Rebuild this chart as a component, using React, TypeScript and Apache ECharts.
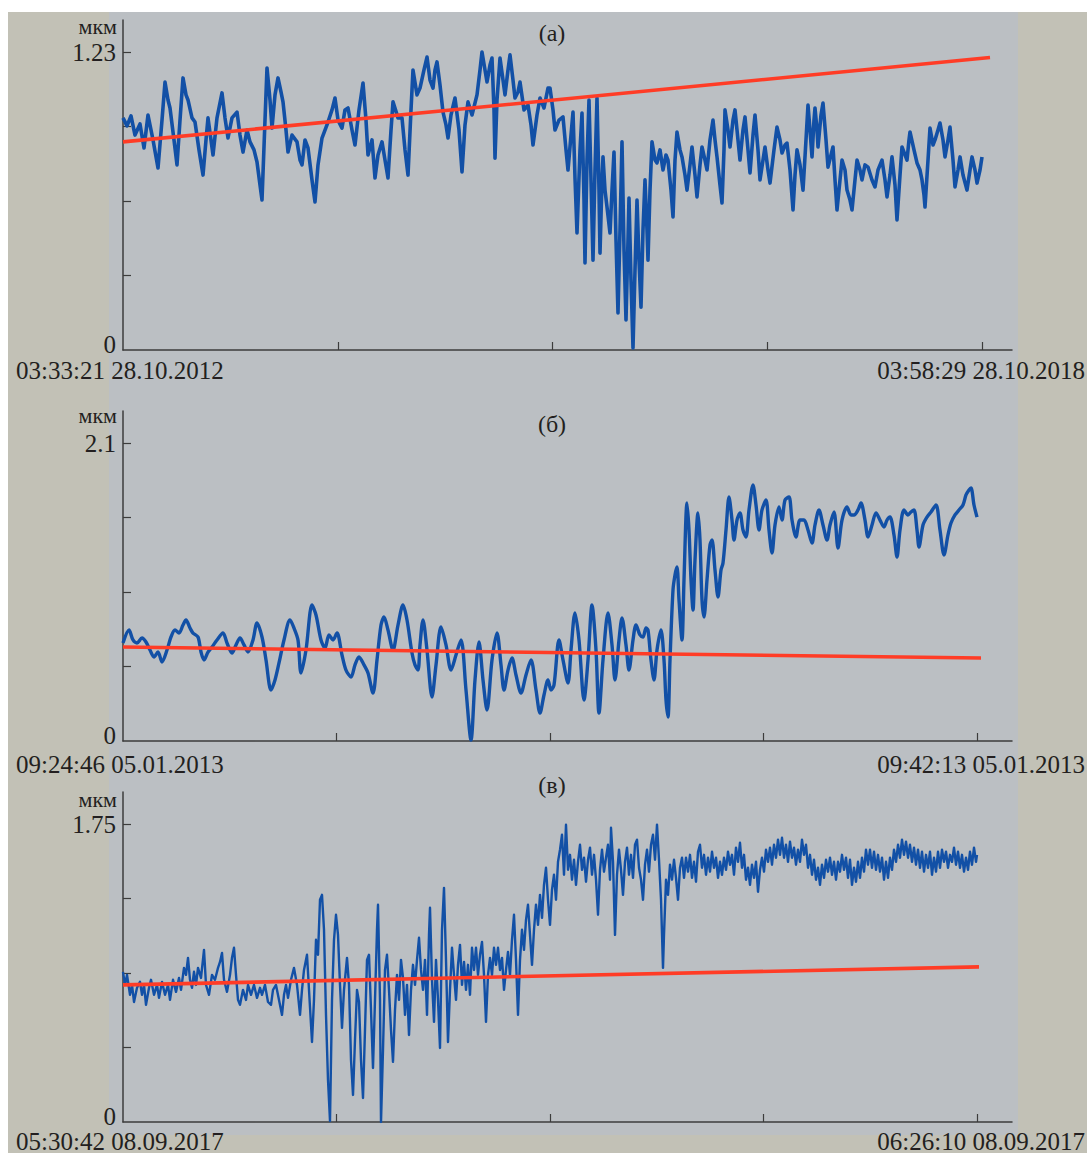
import React, { useEffect, useRef } from "react";
import * as echarts from "echarts";

// Each record is sampled at uniform steps; x is the sample index.
const recordA = 859;
const recordB = 854;
const recordC = 854;

// y-axis top labels (мкм)
const topA = 1.23;
const topB = 2.1;
const topC = 1.75;

const panelTitles = ["(а)", "(б)", "(в)"];
const startLabels = ["03:33:21 28.10.2012", "09:24:46 05.01.2013", "05:30:42 08.09.2017"];
const endLabels = ["03:58:29 28.10.2018", "09:42:13 05.01.2013", "06:26:10 08.09.2017"];
const unitLabel = "мкм";

// Trend lines: [sample, value] at both ends
const trendA: [number, number][] = [[0, 0.859], [867, 1.207]];
const trendB: [number, number][] = [[0, 0.662], [858, 0.585]];
const trendC: [number, number][] = [[0, 0.805], [856, 0.911]];

// Displacement records, мкм
const traceA: [number, number][] = [[0,0.958],[4,0.925],[8,0.966],[12,0.887],[17,0.933],[21,0.834],[25,0.970],[30,0.867],[35,0.751],[39,0.949],[42,1.106],[45,1.032],[47,0.999],[51,0.867],[54,0.764],[57,0.949],[60,1.123],[63,1.053],[65,1.032],[69,0.958],[72,0.941],[76,0.826],[80,0.722],[83,0.867],[85,0.958],[88,0.867],[90,0.805],[94,0.958],[99,1.061],[102,0.958],[105,0.875],[109,0.958],[114,0.982],[117,0.887],[120,0.817],[124,0.908],[127,0.859],[131,0.826],[134,0.776],[137,0.681],[139,0.619],[142,0.949],[144,1.164],[147,1.032],[149,0.916],[152,1.053],[155,1.123],[158,1.065],[160,1.024],[163,0.908],[165,0.817],[169,0.887],[174,0.859],[177,0.784],[179,0.764],[182,0.867],[185,0.834],[189,0.702],[192,0.611],[195,0.764],[199,0.875],[202,0.908],[205,0.941],[209,0.991],[212,1.040],[215,0.949],[219,0.916],[222,0.991],[225,0.999],[229,0.908],[232,0.846],[236,0.991],[240,1.102],[243,0.949],[245,0.805],[249,0.867],[252,0.710],[255,0.805],[259,0.859],[262,0.784],[265,0.710],[268,0.908],[270,1.024],[275,0.958],[279,0.958],[282,0.826],[285,0.722],[288,0.991],[290,1.156],[294,1.053],[297,1.081],[301,1.156],[304,1.209],[307,1.114],[310,1.081],[312,1.156],[314,1.189],[317,1.094],[320,0.982],[323,0.929],[325,0.875],[328,0.970],[332,1.040],[336,0.908],[339,0.735],[342,0.929],[345,1.024],[349,0.970],[354,1.053],[357,1.156],[359,1.230],[362,1.156],[364,1.106],[367,1.176],[369,1.205],[371,0.991],[372,0.792],[374,1.032],[377,1.205],[380,1.114],[382,1.053],[385,1.156],[387,1.218],[390,1.114],[392,1.040],[395,1.065],[397,1.106],[401,0.991],[405,1.011],[408,0.929],[410,0.846],[414,0.970],[417,1.040],[421,0.999],[425,1.081],[427,1.081],[430,0.991],[432,0.908],[436,0.949],[440,0.962],[443,0.826],[445,0.743],[448,0.887],[450,0.982],[452,0.710],[454,0.483],[457,0.826],[459,0.978],[461,0.619],[462,0.359],[464,0.784],[466,1.032],[468,0.702],[470,0.371],[472,0.743],[474,1.040],[476,0.660],[477,0.400],[479,0.702],[480,0.797],[482,0.660],[484,0.590],[487,0.483],[489,0.660],[491,0.817],[493,0.454],[495,0.153],[497,0.495],[499,0.859],[501,0.413],[503,0.124],[505,0.454],[506,0.627],[508,0.289],[510,0.008],[512,0.330],[514,0.619],[516,0.371],[518,0.177],[520,0.495],[522,0.702],[524,0.495],[525,0.371],[527,0.660],[529,0.859],[532,0.784],[534,0.772],[537,0.826],[540,0.743],[543,0.805],[545,0.784],[548,0.660],[550,0.549],[552,0.784],[554,0.900],[557,0.826],[559,0.797],[562,0.722],[564,0.660],[567,0.764],[569,0.838],[572,0.722],[574,0.632],[577,0.764],[579,0.838],[582,0.784],[584,0.743],[587,0.867],[590,0.949],[592,0.867],[594,0.797],[597,0.681],[599,0.607],[601,0.826],[602,0.991],[605,0.908],[607,0.838],[610,0.949],[612,0.991],[615,0.867],[617,0.784],[620,0.908],[622,0.962],[625,0.826],[627,0.731],[630,0.887],[632,0.970],[635,0.826],[637,0.702],[640,0.784],[642,0.838],[645,0.743],[647,0.689],[651,0.826],[654,0.920],[657,0.867],[659,0.813],[662,0.846],[664,0.854],[667,0.743],[670,0.578],[672,0.722],[674,0.826],[677,0.764],[680,0.660],[683,0.867],[685,1.011],[687,0.908],[689,0.797],[691,0.949],[692,0.999],[694,0.908],[695,0.838],[698,0.970],[700,1.019],[703,0.867],[705,0.755],[708,0.805],[710,0.838],[712,0.702],[714,0.578],[717,0.702],[719,0.784],[722,0.743],[724,0.660],[727,0.619],[729,0.578],[732,0.702],[734,0.784],[737,0.743],[739,0.702],[742,0.764],[745,0.755],[749,0.702],[752,0.673],[755,0.743],[759,0.784],[762,0.702],[764,0.632],[767,0.722],[769,0.797],[772,0.681],[774,0.537],[777,0.722],[779,0.838],[782,0.805],[784,0.784],[786,0.867],[787,0.900],[791,0.826],[794,0.772],[797,0.743],[799,0.702],[801,0.640],[802,0.590],[805,0.784],[807,0.916],[810,0.846],[812,0.867],[815,0.908],[817,0.937],[820,0.867],[822,0.797],[825,0.867],[827,0.920],[830,0.784],[832,0.673],[835,0.743],[837,0.797],[840,0.722],[844,0.660],[847,0.743],[849,0.797],[852,0.743],[854,0.689],[857,0.743],[859,0.797]];

const traceB: [number, number][] = [[0,0.691],[6,0.782],[10,0.712],[14,0.691],[19,0.726],[23,0.698],[27,0.641],[31,0.592],[35,0.627],[39,0.557],[44,0.641],[48,0.733],[52,0.782],[56,0.761],[60,0.817],[63,0.853],[67,0.796],[70,0.761],[75,0.733],[78,0.627],[81,0.571],[85,0.627],[89,0.662],[94,0.712],[100,0.761],[104,0.691],[109,0.620],[113,0.677],[117,0.726],[121,0.677],[125,0.627],[130,0.712],[134,0.832],[139,0.733],[143,0.571],[148,0.359],[152,0.430],[156,0.550],[161,0.712],[167,0.853],[171,0.796],[175,0.712],[178,0.479],[183,0.641],[189,0.958],[193,0.888],[198,0.712],[202,0.655],[206,0.747],[210,0.712],[214,0.761],[219,0.606],[223,0.500],[228,0.451],[232,0.536],[236,0.592],[241,0.536],[245,0.479],[250,0.338],[254,0.571],[258,0.817],[261,0.874],[265,0.782],[270,0.641],[275,0.817],[280,0.958],[284,0.853],[289,0.620],[292,0.536],[295,0.500],[297,0.677],[300,0.853],[304,0.641],[309,0.310],[313,0.536],[318,0.803],[323,0.677],[328,0.500],[333,0.606],[338,0.712],[343,0.359],[348,0.007],[352,0.430],[356,0.698],[360,0.430],[364,0.218],[369,0.571],[374,0.761],[378,0.536],[381,0.359],[385,0.500],[389,0.585],[393,0.465],[398,0.338],[403,0.465],[408,0.571],[413,0.359],[417,0.197],[421,0.324],[425,0.430],[428,0.359],[431,0.395],[436,0.712],[440,0.571],[445,0.409],[448,0.641],[452,0.902],[456,0.712],[461,0.289],[465,0.571],[469,0.958],[473,0.641],[476,0.197],[480,0.571],[485,0.902],[489,0.677],[492,0.430],[496,0.712],[499,0.867],[503,0.677],[506,0.500],[510,0.712],[513,0.817],[517,0.747],[520,0.733],[523,0.796],[525,0.782],[528,0.571],[531,0.430],[534,0.641],[538,0.782],[541,0.571],[543,0.289],[545,0.169],[547,0.571],[550,1.064],[552,1.170],[554,1.226],[556,0.994],[559,0.712],[561,1.135],[564,1.677],[566,1.487],[568,1.135],[570,0.923],[572,1.276],[575,1.607],[577,1.416],[579,0.994],[581,0.874],[584,1.135],[587,1.381],[589,1.416],[592,1.205],[595,1.015],[598,1.205],[600,1.254],[603,1.487],[606,1.719],[609,1.557],[611,1.416],[614,1.557],[617,1.607],[620,1.487],[623,1.438],[626,1.628],[630,1.804],[633,1.663],[636,1.487],[639,1.628],[643,1.698],[646,1.487],[649,1.325],[652,1.522],[656,1.649],[659,1.557],[662,1.698],[666,1.719],[669,1.557],[673,1.438],[677,1.557],[681,1.557],[685,1.487],[689,1.395],[692,1.522],[696,1.628],[700,1.522],[704,1.416],[707,1.522],[711,1.614],[715,1.360],[719,1.557],[724,1.649],[728,1.593],[731,1.593],[735,1.628],[738,1.677],[742,1.557],[745,1.438],[749,1.522],[753,1.607],[757,1.557],[761,1.508],[764,1.557],[767,1.578],[771,1.452],[774,1.297],[777,1.487],[781,1.628],[785,1.593],[788,1.614],[791,1.628],[794,1.487],[796,1.367],[800,1.522],[804,1.578],[808,1.614],[813,1.663],[817,1.487],[821,1.311],[825,1.452],[828,1.536],[832,1.593],[836,1.628],[840,1.663],[843,1.734],[846,1.769],[848,1.783],[851,1.663],[854,1.578]];

const traceC: [number, number][] = [[0,0.882],[2,0.805],[4,0.864],[7,0.747],[9,0.805],[11,0.705],[14,0.788],[17,0.823],[19,0.747],[21,0.805],[23,0.688],[26,0.788],[28,0.835],[31,0.747],[34,0.805],[36,0.729],[39,0.823],[42,0.747],[45,0.805],[47,0.717],[50,0.835],[53,0.764],[56,0.846],[58,0.776],[61,0.905],[63,0.864],[65,0.964],[67,0.835],[69,0.788],[71,0.882],[73,0.805],[75,0.905],[78,0.846],[81,1.011],[83,0.805],[86,0.747],[89,0.864],[92,0.835],[95,0.905],[97,0.940],[99,0.993],[101,0.835],[104,0.764],[107,0.864],[109,0.964],[111,1.023],[113,0.864],[115,0.717],[117,0.688],[120,0.776],[123,0.717],[125,0.805],[128,0.747],[131,0.805],[134,0.729],[137,0.788],[139,0.747],[142,0.805],[145,0.705],[148,0.688],[150,0.776],[153,0.805],[156,0.717],[159,0.629],[161,0.747],[163,0.805],[165,0.729],[168,0.835],[171,0.905],[174,0.805],[177,0.629],[179,0.776],[181,0.893],[184,0.982],[186,0.776],[189,0.470],[191,0.717],[193,1.070],[195,0.982],[197,1.305],[199,1.334],[201,1.129],[203,0.629],[205,0.247],[207,0.006],[209,0.717],[211,1.070],[213,1.217],[215,1.099],[217,0.805],[219,0.553],[221,0.776],[224,0.964],[226,0.805],[228,0.364],[230,0.159],[232,0.482],[234,0.776],[236,0.705],[238,0.364],[240,0.141],[242,0.541],[244,0.952],[246,0.982],[248,0.658],[250,0.317],[252,0.717],[254,1.129],[255,1.276],[257,0.717],[258,0.000],[260,0.423],[262,0.893],[264,0.982],[266,0.776],[268,0.541],[270,0.353],[272,0.658],[274,0.864],[276,0.717],[278,0.952],[280,0.846],[282,0.629],[284,0.805],[286,0.511],[288,0.776],[290,0.923],[292,0.805],[294,0.952],[296,1.082],[298,0.893],[300,0.776],[302,0.952],[304,0.629],[306,1.099],[307,1.258],[309,0.835],[311,0.588],[313,0.952],[315,0.717],[317,0.435],[319,1.129],[321,1.375],[323,0.952],[325,0.470],[327,0.776],[329,1.023],[331,0.864],[333,0.717],[335,0.923],[337,1.040],[339,0.805],[341,0.940],[343,0.776],[345,0.923],[347,0.747],[349,1.023],[351,0.893],[353,1.023],[355,0.864],[357,0.982],[359,1.058],[361,0.864],[363,0.588],[365,0.864],[367,0.964],[369,0.864],[371,1.023],[373,0.923],[375,1.023],[377,0.893],[379,0.964],[381,0.776],[383,0.893],[385,0.999],[387,0.864],[389,1.070],[391,1.217],[393,0.952],[395,0.629],[397,0.952],[399,1.129],[401,1.011],[403,1.187],[405,1.276],[407,1.099],[409,0.923],[411,1.129],[413,1.276],[415,1.158],[417,1.334],[419,1.199],[421,1.393],[423,1.493],[425,1.305],[427,1.158],[429,1.364],[431,1.452],[433,1.305],[435,1.528],[437,1.599],[439,1.687],[441,1.452],[443,1.746],[445,1.481],[447,1.569],[449,1.423],[451,1.540],[453,1.393],[455,1.528],[457,1.628],[459,1.481],[461,1.552],[463,1.411],[465,1.540],[467,1.611],[469,1.452],[471,1.569],[473,1.423],[475,1.217],[477,1.481],[479,1.599],[481,1.470],[483,1.552],[485,1.628],[487,1.423],[488,1.728],[490,1.528],[492,1.099],[494,1.452],[496,1.599],[498,1.481],[500,1.334],[502,1.528],[504,1.611],[506,1.452],[508,1.569],[510,1.434],[512,1.628],[514,1.658],[516,1.493],[518,1.423],[520,1.305],[522,1.511],[524,1.599],[526,1.470],[528,1.628],[530,1.687],[532,1.540],[534,1.746],[536,1.540],[538,1.305],[540,0.905],[541,1.099],[543,1.423],[545,1.334],[547,1.511],[549,1.423],[551,1.540],[553,1.434],[555,1.305],[557,1.493],[559,1.552],[561,1.434],[563,1.552],[565,1.470],[567,1.569],[569,1.434],[571,1.528],[573,1.411],[575,1.587],[577,1.628],[579,1.493],[581,1.569],[583,1.452],[585,1.552],[587,1.470],[589,1.587],[591,1.493],[593,1.552],[595,1.434],[597,1.528],[599,1.452],[601,1.552],[603,1.481],[605,1.587],[607,1.511],[609,1.569],[611,1.452],[613,1.611],[615,1.528],[617,1.640],[619,1.493],[621,1.569],[623,1.423],[625,1.493],[627,1.393],[629,1.511],[631,1.434],[633,1.528],[635,1.352],[637,1.481],[639,1.552],[641,1.470],[643,1.599],[645,1.528],[647,1.611],[649,1.511],[651,1.628],[653,1.552],[655,1.658],[657,1.569],[659,1.669],[661,1.552],[663,1.628],[665,1.528],[667,1.646],[669,1.552],[671,1.611],[673,1.511],[675,1.599],[677,1.528],[679,1.658],[681,1.569],[683,1.628],[685,1.493],[687,1.569],[689,1.452],[691,1.540],[693,1.423],[695,1.493],[697,1.393],[699,1.511],[701,1.434],[703,1.540],[705,1.470],[707,1.552],[709,1.452],[711,1.528],[713,1.423],[715,1.528],[717,1.470],[719,1.569],[721,1.481],[723,1.552],[725,1.434],[727,1.540],[729,1.393],[731,1.493],[733,1.411],[735,1.528],[737,1.434],[739,1.552],[741,1.470],[743,1.599],[745,1.511],[747,1.599],[749,1.493],[751,1.587],[753,1.481],[755,1.569],[757,1.470],[759,1.552],[761,1.423],[763,1.528],[765,1.434],[767,1.552],[769,1.481],[771,1.599],[773,1.528],[775,1.628],[777,1.552],[779,1.658],[781,1.569],[783,1.646],[785,1.552],[787,1.628],[789,1.528],[791,1.611],[793,1.511],[795,1.599],[797,1.493],[799,1.587],[801,1.470],[803,1.569],[805,1.493],[807,1.587],[809,1.452],[811,1.552],[813,1.470],[815,1.587],[817,1.493],[819,1.599],[821,1.528],[823,1.587],[825,1.493],[827,1.569],[829,1.528],[831,1.611],[833,1.511],[835,1.587],[837,1.493],[839,1.569],[841,1.470],[843,1.552],[845,1.481],[847,1.587],[849,1.511],[851,1.611],[853,1.528],[854,1.569]];

const FONT = '"Liberation Serif", "Times New Roman", serif';
const INK = "#231f20";
const AXIS = "#3c3c3c";
const BLUE = "#1250a6";
const RED = "#ff3c26";

export default function App() {
  const ref = useRef<HTMLDivElement>(null);

  useEffect(() => {
    if (!ref.current) return;
    const chart = echarts.init(ref.current, undefined, { renderer: "svg" });

    const panels = [
      { top: 20, record: recordA, topValue: topA, trace: traceA, trend: trendA, smooth: false, width: 3.6,
        unitY: 26, titleY: 33, dateY: 370 },
      { top: 411, record: recordB, topValue: topB, trace: traceB, trend: trendB, smooth: 0.3, width: 3.4,
        unitY: 415, titleY: 424, dateY: 764 },
      { top: 792, record: recordC, topValue: topC, trace: traceC, trend: trendC, smooth: false, width: 2.4,
        unitY: 799, titleY: 785, dateY: 1141 },
    ];
    const left = 123;
    const axisLen = 889;
    const plotH = 330;
    const tickSpan = 298;

    const grid: any[] = [];
    const xAxis: any[] = [];
    const yAxis: any[] = [];
    const series: any[] = [];
    const graphic: any[] = [];

    panels.forEach((p, i) => {
      grid.push({ left, top: p.top, width: axisLen, height: plotH, containLabel: false });
      const q = p.topValue / 4;
      const yMax = (p.topValue * plotH) / tickSpan;
      const xq = p.record / 4;
      xAxis.push({
        gridIndex: i, type: "value", min: 0, max: axisLen,
        axisLine: { show: true, onZero: false, lineStyle: { color: AXIS, width: 1.5 } },
        axisTick: { show: true, inside: true, length: 8, customValues: [xq, 2 * xq, 3 * xq, 4 * xq],
          lineStyle: { color: AXIS, width: 1.2 } },
        axisLabel: { show: false },
        splitLine: { show: false },
      });
      yAxis.push({
        gridIndex: i, type: "value", min: 0, max: yMax,
        axisLine: { show: true, onZero: false, lineStyle: { color: AXIS, width: 1.5 } },
        axisTick: { show: true, inside: true, length: 8, customValues: [q, 2 * q, 3 * q, 4 * q],
          lineStyle: { color: AXIS, width: 1.2 } },
        axisLabel: {
          show: true, customValues: [0, p.topValue],
          formatter: (v: number) => (v === 0 ? "{z|0}" : `{t|${v}}`),
          rich: {
            z: { fontFamily: FONT, fontSize: 25, color: INK, padding: [0, 0, 12, 0] },
            t: { fontFamily: FONT, fontSize: 25, color: INK },
          },
          margin: 7,
        },
        splitLine: { show: false },
      });
      series.push({
        type: "line", xAxisIndex: i, yAxisIndex: i, data: p.trace, showSymbol: false,
        smooth: p.smooth, lineStyle: { color: BLUE, width: p.width, join: "round" }, z: 2,
      });
      series.push({
        type: "line", xAxisIndex: i, yAxisIndex: i, data: p.trend, showSymbol: false,
        lineStyle: { color: RED, width: 3.6 }, z: 3,
      });
      graphic.push(
        { type: "text", x: 117, y: p.unitY, style: { text: unitLabel, font: `22px ${FONT}`, fill: INK, align: "right", verticalAlign: "middle" } },
        { type: "text", x: 552, y: p.titleY, style: { text: panelTitles[i], font: `24px ${FONT}`, fill: INK, align: "center", verticalAlign: "middle" } },
        { type: "text", x: 16, y: p.dateY, style: { text: startLabels[i], font: `25px ${FONT}`, fill: INK, align: "left", verticalAlign: "middle" } },
        { type: "text", x: 1085, y: p.dateY, style: { text: endLabels[i], font: `25px ${FONT}`, fill: INK, align: "right", verticalAlign: "middle" } },
      );
    });

    chart.setOption({ animation: false, grid, xAxis, yAxis, series, graphic });
    return () => chart.dispose();
  }, []);

  return (
    <div style={{ position: "absolute", left: 0, top: 0, width: 1087, height: 1153, background: "#ffffff" }}>
      <div style={{ position: "absolute", left: 8, top: 12, width: 1079, height: 1141, background: "#c2c1b6" }} />
      <div style={{ position: "absolute", left: 109, top: 12, width: 909, height: 1123, background: "#bbbfc3" }} />
      <div ref={ref} style={{ position: "absolute", left: 0, top: 0, width: 1087, height: 1153 }} />
    </div>
  );
}
